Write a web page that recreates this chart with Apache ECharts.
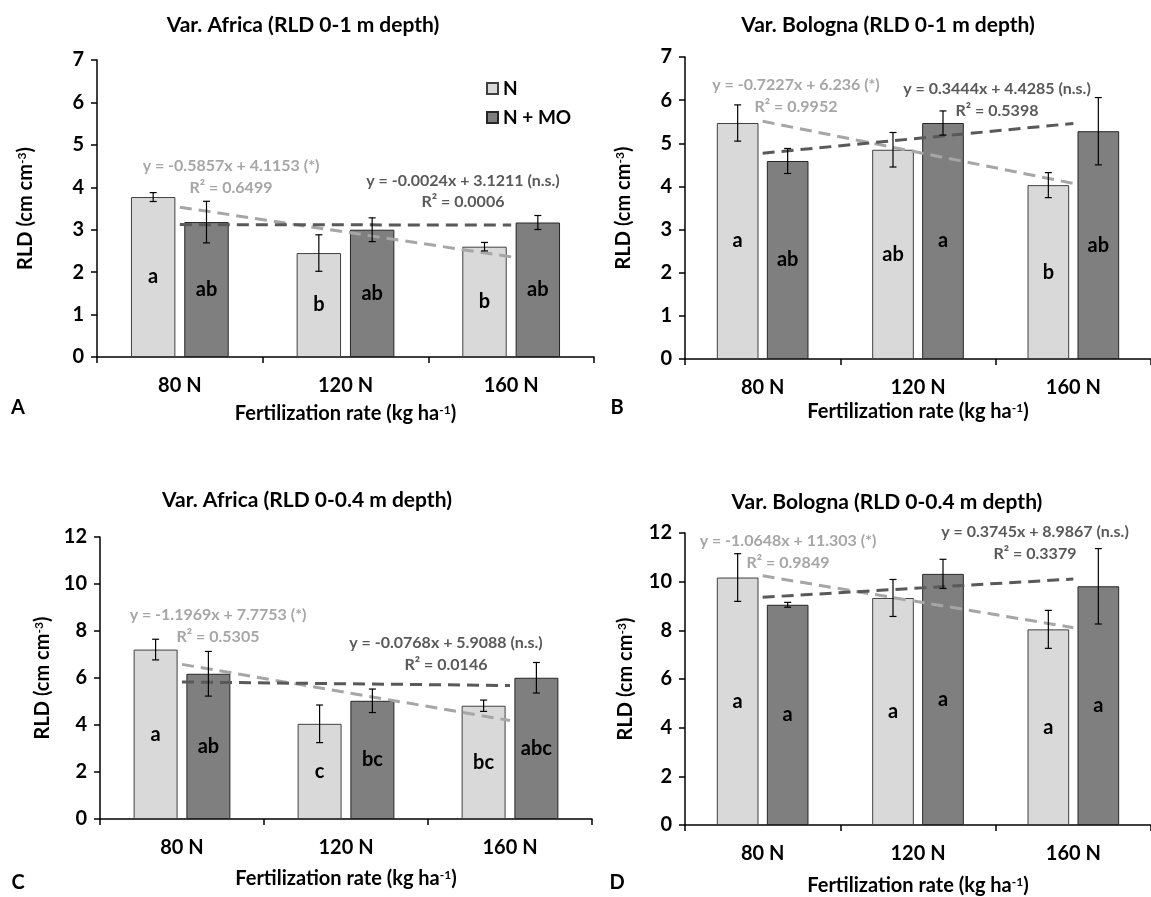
<!DOCTYPE html>
<html><head><meta charset="utf-8">
<script src="https://cdn.jsdelivr.net/npm/echarts@6/dist/echarts.min.js"></script>
<style>html,body{margin:0;padding:0;background:#fff}#c{width:1151px;height:897px}</style>
</head><body><div id="c"></div>
<script>
const categories = ['80 N', '120 N', '160 N'];
const seriesNames = ['N', 'N + MO'];

// Panel A: Var. Africa 0-1 m
const A_N = [3.77, 2.45, 2.60];
const A_MO = [3.18, 3.00, 3.17];
const A_N_err = [0.105, 0.43, 0.10];
const A_MO_err = [0.49, 0.28, 0.165];
const A_N_letters = ['a', 'b', 'b'];
const A_MO_letters = ['ab', 'ab', 'ab'];
const A_N_trend = [3.53, 2.36];
const A_MO_trend = [3.12, 3.11];
const A_eqN = ['y = -0.5857x + 4.1153 (*)', 'R² = 0.6499'];
const A_eqMO = ['y = -0.0024x + 3.1211 (n.s.)', 'R² = 0.0006'];

// Panel B: Var. Bologna 0-1 m
const B_N = [5.47, 4.85, 4.03];
const B_MO = [4.59, 5.47, 5.28];
const B_N_err = [0.42, 0.40, 0.29];
const B_MO_err = [0.29, 0.28, 0.78];
const B_N_letters = ['a', 'ab', 'b'];
const B_MO_letters = ['ab', 'a', 'ab'];
const B_N_trend = [5.51, 4.07];
const B_MO_trend = [4.77, 5.46];
const B_eqN = ['y = -0.7227x + 6.236 (*)', 'R² = 0.9952'];
const B_eqMO = ['y = 0.3444x + 4.4285 (n.s.)', 'R² = 0.5398'];

// Panel C: Var. Africa 0-0.4 m
const C_N = [7.21, 4.05, 4.82];
const C_MO = [6.18, 5.03, 6.01];
const C_N_err = [0.44, 0.80, 0.24];
const C_MO_err = [0.95, 0.50, 0.65];
const C_N_letters = ['a', 'c', 'bc'];
const C_MO_letters = ['ab', 'bc', 'abc'];
const C_N_trend = [6.58, 4.19];
const C_MO_trend = [5.83, 5.68];
const C_eqN = ['y = -1.1969x + 7.7753 (*)', 'R² = 0.5305'];
const C_eqMO = ['y = -0.0768x + 5.9088 (n.s.)', 'R² = 0.0146'];

// Panel D: Var. Bologna 0-0.4 m
const D_N = [10.17, 9.33, 8.04];
const D_MO = [9.05, 10.32, 9.81];
const D_N_err = [0.98, 0.76, 0.78];
const D_MO_err = [0.10, 0.60, 1.55];
const D_N_letters = ['a', 'a', 'a'];
const D_MO_letters = ['a', 'a', 'a'];
const D_N_trend = [10.24, 8.11];
const D_MO_trend = [9.36, 10.11];
const D_eqN = ['y = -1.0648x + 11.303 (*)', 'R² = 0.9849'];
const D_eqMO = ['y = 0.3745x + 8.9867 (n.s.)', 'R² = 0.3379'];

const titles = ['Var. Africa (RLD 0-1 m depth)', 'Var. Bologna (RLD 0-1 m depth)',
                'Var. Africa (RLD 0-0.4 m depth)', 'Var. Bologna (RLD 0-0.4 m depth)'];
const panelLetters = ['A', 'B', 'C', 'D'];
const yMax = [7, 7, 12, 12];
const yInterval = [1, 1, 2, 2];

const FONT = 'Lato, "Open Sans", sans-serif';
const LIGHT = '#d9d9d9', DARK = '#7f7f7f';
const TREND_LIGHT = '#a6a6a6', TREND_DARK = '#595959';
const CAT_GAP = 0.41, BAR_GAP = 0.20;

const panels = [
  {N: A_N, MO: A_MO, Ne: A_N_err, MOe: A_MO_err, Nl: A_N_letters, MOl: A_MO_letters, Nt: A_N_trend, MOt: A_MO_trend, eqN: A_eqN, eqMO: A_eqMO},
  {N: B_N, MO: B_MO, Ne: B_N_err, MOe: B_MO_err, Nl: B_N_letters, MOl: B_MO_letters, Nt: B_N_trend, MOt: B_MO_trend, eqN: B_eqN, eqMO: B_eqMO},
  {N: C_N, MO: C_MO, Ne: C_N_err, MOe: C_MO_err, Nl: C_N_letters, MOl: C_MO_letters, Nt: C_N_trend, MOt: C_MO_trend, eqN: C_eqN, eqMO: C_eqMO},
  {N: D_N, MO: D_MO, Ne: D_N_err, MOe: D_MO_err, Nl: D_N_letters, MOl: D_MO_letters, Nt: D_N_trend, MOt: D_MO_trend, eqN: D_eqN, eqMO: D_eqMO}
];

// layout
const grids = [
  {left: 97, top: 60, width: 497, height: 297},
  {left: 685, top: 57, width: 480, height: 302},
  {left: 100, top: 537, width: 492, height: 282},
  {left: 685, top: 533, width: 474, height: 292}
];
const yNameGap = [61, 51, 47, 49];
const xNameGap = [47, 43, 50, 51];
const titlePos = [[303, 25], [888, 25], [307, 500], [887, 502]];
const letterPos = [[18, 408], [617, 408], [18, 883], [617, 883]];
const eqNPos = [[231, 166, 188], [796, 85, 107], [218, 615, 637], [788, 541, 563]];
const eqMOPos = [[463, 181, 202], [997, 89, 111], [446, 643, 665], [1035, 532, 554]];

function errRender(barIndex) {
  return function (params, api) {
    const ci = api.value(0), v = api.value(1), e = api.value(2);
    const band = api.size([1, 0])[0];
    const w = band * (1 - CAT_GAP) / (2 + BAR_GAP);
    const total = 2 * w + w * BAR_GAP;
    const c = api.coord([ci, v]);
    const x = c[0] - total / 2 + barIndex * (w + w * BAR_GAP) + w / 2;
    const top = api.coord([ci, v + e])[1];
    const bot = api.coord([ci, v - e])[1];
    const cap = 3.5;
    const st = {stroke: '#000', lineWidth: 1.2};
    return {type: 'group', children: [
      {type: 'line', shape: {x1: x, y1: top, x2: x, y2: bot}, style: st},
      {type: 'line', shape: {x1: x - cap, y1: top, x2: x + cap, y2: top}, style: st},
      {type: 'line', shape: {x1: x - cap, y1: bot, x2: x + cap, y2: bot}, style: st}
    ]};
  };
}

const xAxes = [], yAxes = [], series = [], graphics = [];
panels.forEach((p, i) => {
  xAxes.push({
    type: 'category', gridIndex: i, data: categories,
    name: 'Fertilization rate (kg ha{sup|-1})', nameLocation: 'middle', nameGap: xNameGap[i],
    nameTextStyle: {fontFamily: FONT, fontWeight: 'bold', fontSize: 20, color: '#000',
      rich: {sup: {fontFamily: FONT, fontWeight: 'bold', fontSize: 12, verticalAlign: 'top', color: '#000'}}},
    axisLine: {lineStyle: {color: '#000', width: 1.5}},
    axisTick: {show: true, length: 6, lineStyle: {color: '#000', width: 1.5}},
    axisLabel: {fontFamily: FONT, fontWeight: 'bold', fontSize: 20, color: '#000', margin: 19}
  });
  yAxes.push({
    type: 'value', gridIndex: i, min: 0, max: yMax[i], interval: yInterval[i],
    name: 'RLD (cm cm{sup|-3})', nameLocation: 'middle', nameGap: yNameGap[i], nameRotate: 90,
    nameTextStyle: {fontFamily: FONT, fontWeight: 'bold', fontSize: 20, color: '#000',
      rich: {sup: {fontFamily: FONT, fontWeight: 'bold', fontSize: 12, verticalAlign: 'top', color: '#000'}}},
    axisLine: {show: true, lineStyle: {color: '#000', width: 1.5}},
    axisTick: {show: true, length: 6, lineStyle: {color: '#000', width: 1.5}},
    splitLine: {show: false},
    axisLabel: {fontFamily: FONT, fontWeight: 'bold', fontSize: 20, color: '#000', margin: 13}
  });
  const barLabel = (letters) => ({
    show: true, position: 'inside', fontFamily: FONT, fontWeight: 'bold', fontSize: 20, color: '#000',
    formatter: (prm) => letters[prm.dataIndex]
  });
  series.push({
    type: 'bar', name: seriesNames[0], xAxisIndex: i, yAxisIndex: i, data: p.N,
    barCategoryGap: (CAT_GAP * 100) + '%', barGap: (BAR_GAP * 100) + '%',
    itemStyle: {color: LIGHT, borderColor: '#404040', borderWidth: 1},
    label: barLabel(p.Nl), z: 2
  });
  series.push({
    type: 'bar', name: seriesNames[1], xAxisIndex: i, yAxisIndex: i, data: p.MO,
    barCategoryGap: (CAT_GAP * 100) + '%', barGap: (BAR_GAP * 100) + '%',
    itemStyle: {color: DARK, borderColor: '#262626', borderWidth: 1},
    label: barLabel(p.MOl), z: 2
  });
  series.push({
    type: 'line', name: 'trendN' + i, xAxisIndex: i, yAxisIndex: i,
    data: [[0, p.Nt[0]], [2, p.Nt[1]]], symbol: 'none', silent: true,
    lineStyle: {color: TREND_LIGHT, width: 3, type: [12, 7]}, z: 3
  });
  series.push({
    type: 'line', name: 'trendMO' + i, xAxisIndex: i, yAxisIndex: i,
    data: [[0, p.MOt[0]], [2, p.MOt[1]]], symbol: 'none', silent: true,
    lineStyle: {color: TREND_DARK, width: 3, type: [12, 7]}, z: 3
  });
  series.push({
    type: 'custom', name: 'errN' + i, xAxisIndex: i, yAxisIndex: i, z: 4,
    data: p.N.map((v, k) => [k, v, p.Ne[k]]), renderItem: errRender(0), silent: true
  });
  series.push({
    type: 'custom', name: 'errMO' + i, xAxisIndex: i, yAxisIndex: i, z: 4,
    data: p.MO.map((v, k) => [k, v, p.MOe[k]]), renderItem: errRender(1), silent: true
  });
  graphics.push({type: 'text', x: titlePos[i][0], y: titlePos[i][1],
    style: {text: titles[i], align: 'center', verticalAlign: 'middle', font: 'bold 21px ' + FONT, fill: '#000'}});
  graphics.push({type: 'text', x: letterPos[i][0], y: letterPos[i][1],
    style: {text: panelLetters[i], align: 'center', verticalAlign: 'middle', font: 'bold 20px ' + FONT, fill: '#000'}});
  graphics.push({type: 'text', x: eqNPos[i][0], y: eqNPos[i][1],
    style: {text: p.eqN[0], align: 'center', verticalAlign: 'middle', font: 'bold 16px ' + FONT, fill: TREND_LIGHT}});
  graphics.push({type: 'text', x: eqNPos[i][0], y: eqNPos[i][2],
    style: {text: p.eqN[1], align: 'center', verticalAlign: 'middle', font: 'bold 16px ' + FONT, fill: TREND_LIGHT}});
  graphics.push({type: 'text', x: eqMOPos[i][0], y: eqMOPos[i][1],
    style: {text: p.eqMO[0], align: 'center', verticalAlign: 'middle', font: 'bold 16px ' + FONT, fill: TREND_DARK}});
  graphics.push({type: 'text', x: eqMOPos[i][0], y: eqMOPos[i][2],
    style: {text: p.eqMO[1], align: 'center', verticalAlign: 'middle', font: 'bold 16px ' + FONT, fill: TREND_DARK}});
});

const chart = echarts.init(document.getElementById('c'), null, {renderer: 'canvas'});
chart.setOption({
  animation: false,
  backgroundColor: '#fff',
  grid: grids,
  xAxis: xAxes,
  yAxis: yAxes,
  legend: {
    data: seriesNames, orient: 'vertical', left: 481, top: 74,
    itemWidth: 11, itemHeight: 11, itemGap: 10, icon: 'rect',
    textStyle: {fontFamily: FONT, fontWeight: 'bold', fontSize: 19, color: '#000'}
  },
  series: series,
  graphic: graphics
});
</script>
</body></html>
